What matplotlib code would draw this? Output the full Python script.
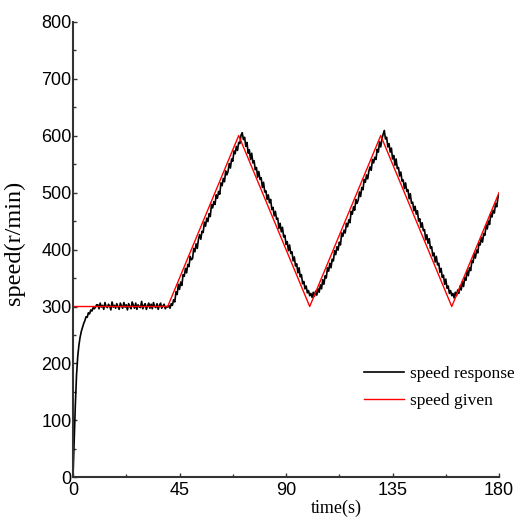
import matplotlib
matplotlib.use("Agg")
import matplotlib.pyplot as plt
from matplotlib.ticker import MultipleLocator
import numpy as np

# reference (given) speed, corner points
given_time = [0, 40, 70, 100, 130, 160, 180]
given_speed = [300, 300, 600, 300, 600, 300, 500]

# measured speed response, one sample every 0.5 s from 0 to 180 s
resp_dt = 0.5
resp_speed = [
    # 0 - 10 s
    0, 62, 128, 180, 212, 232, 246, 256, 263, 270,
    275, 282, 281, 289, 287, 294, 292, 298, 296, 299, 303,
    # 10.5 - 40 s
    303, 296, 306, 299, 302, 295, 307, 300, 298, 304, 301, 294, 308, 299, 302, 297, 305, 300, 295, 306,
    301, 297, 307, 299, 303, 294, 305, 300, 296, 308, 302, 297, 306, 295, 303, 300, 298, 309, 296, 302,
    305, 295, 301, 306, 297, 304, 296, 307, 300, 298, 305, 295, 302, 306, 297, 301, 304, 296, 300, 299,
    # 40.5 - 70 s
    302, 297, 305, 302, 312, 308, 326, 321, 339, 330,
    343, 337, 356, 353, 367, 359, 374, 370, 388, 382,
    384, 402, 396, 410, 402, 418, 426, 418, 432, 430,
    448, 441, 455, 449, 463, 458, 479, 473, 484, 479,
    496, 490, 502, 497, 517, 512, 525, 519, 538, 531,
    537, 551, 543, 559, 555, 573, 568, 581, 574, 588,
    # 70.5 - 100 s
    586, 601, 605, 593, 597, 581, 588, 569, 575, 558,
    569, 552, 556, 540, 544, 527, 537, 523, 526, 509,
    518, 501, 503, 488, 496, 482, 488, 470, 474, 459,
    467, 453, 455, 437, 446, 431, 439, 422, 425, 409,
    414, 398, 408, 393, 396, 380, 387, 371, 375, 359,
    368, 352, 356, 340, 344, 331, 336, 324, 328, 319,
    # 100.5 - 130 s
    323, 316, 325, 318, 327, 320, 331, 325, 338, 331,
    347, 339, 354, 350, 368, 362, 376, 368, 383, 380,
    398, 391, 405, 399, 413, 408, 429, 423, 434, 429,
    446, 440, 452, 447, 467, 462, 475, 469, 488, 481,
    487, 501, 493, 509, 505, 523, 518, 531, 524, 538,
    545, 539, 558, 552, 562, 558, 576, 571, 589, 580,
    # 130.5 - 160 s
    594, 602, 609, 594, 597, 580, 586, 571, 578, 559,
    565, 548, 559, 542, 544, 529, 536, 520, 522, 507,
    517, 502, 505, 489, 498, 481, 483, 468, 476, 462,
    468, 450, 454, 439, 447, 433, 435, 417, 426, 411,
    419, 402, 405, 389, 394, 378, 388, 373, 376, 360,
    367, 351, 355, 339, 348, 332, 336, 323, 328, 319,
    # 160.5 - 180 s
    323, 315, 325, 319, 329, 323, 336, 329, 344, 335,
    351, 346, 363, 354, 368, 363, 380, 377, 393, 385,
    399, 394, 412, 408, 421, 413, 428, 425, 443, 436,
    450, 444, 464, 457, 469, 464, 481, 475, 491, 498,
]

x_ticks = [0, 45, 90, 135, 180]
y_ticks = [0, 100, 200, 300, 400, 500, 600, 700, 800]

resp_time = np.arange(len(resp_speed)) * resp_dt

tick_font = ["Liberation Sans", "DejaVu Sans"]
serif_font = ["Liberation Serif", "DejaVu Serif"]

fig = plt.figure(figsize=(5.14, 5.27), dpi=100)
ax = fig.add_axes([0.142, 0.094, 0.829, 0.865])

ax.plot(resp_time, resp_speed, color="black", lw=1.2, label="speed response")
ax.plot(given_time, given_speed, color="red", lw=1.0, label="speed given")

ax.set_xlim(0, 180)
ax.set_ylim(0, 800)
ax.set_xticks(x_ticks)
ax.set_yticks(y_ticks)
ax.xaxis.set_minor_locator(MultipleLocator(22.5))
ax.yaxis.set_minor_locator(MultipleLocator(50))
ax.tick_params(which="both", direction="in", width=1, color="#333333")
ax.tick_params(which="major", length=3)
ax.tick_params(which="minor", length=2.5)
ax.tick_params(axis="y", pad=1)
ax.tick_params(axis="x", pad=3)

for lab in ax.get_xticklabels() + ax.get_yticklabels():
    lab.set_family(tick_font)
    lab.set_fontsize(13)

for side in ["top", "right"]:
    ax.spines[side].set_visible(False)
for side in ["left", "bottom"]:
    ax.spines[side].set_linewidth(1.5)
    ax.spines[side].set_color("#333333")

ax.set_xlabel("time(s)", family=serif_font, fontsize=13)
ax.xaxis.set_label_coords(0.619, -0.048)
ax.set_ylabel("speed(r/min)", family=serif_font, fontsize=17.5)
ax.yaxis.set_label_coords(-0.113, 0.515)

ax.legend(loc="center left", bbox_to_anchor=(0.682, 0.197), frameon=False,
          prop={"family": serif_font, "size": 12.5}, handlelength=2.3,
          handletextpad=0.35, labelspacing=0.6, borderpad=0, borderaxespad=0)

fig.savefig("out.png", dpi=100)
